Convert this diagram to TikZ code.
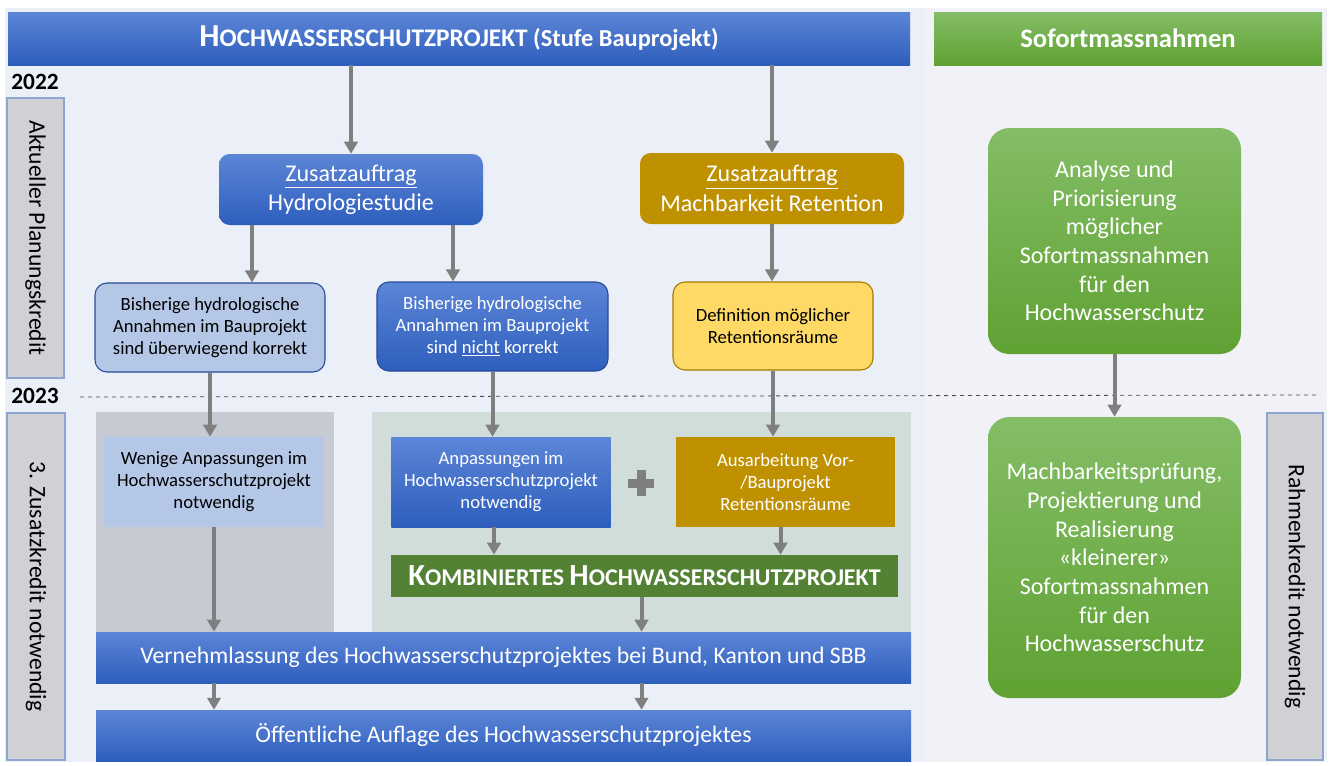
\documentclass[tikz,border=0pt]{standalone}
\usepackage{fontspec}
\setmainfont{Carlito}
\usetikzlibrary{positioning,arrows.meta,calc}
\definecolor{panelL}{HTML}{EAEFF8}
\definecolor{panelR}{HTML}{F0F2F7}
\definecolor{blueTop}{HTML}{5C85D6}
\definecolor{blueBot}{HTML}{2E5EBD}
\definecolor{greenTop}{HTML}{84BD66}
\definecolor{greenBot}{HTML}{5FA233}
\definecolor{gold}{HTML}{BF9000}
\definecolor{lightgold}{HTML}{FFD966}
\definecolor{lightblue}{HTML}{B4C7E7}
\definecolor{darkgreen}{HTML}{548235}
\definecolor{arrgray}{HTML}{7F7F7F}
\definecolor{sidegray}{HTML}{D0D1D5}
\definecolor{sideline}{HTML}{8EA6CF}
\definecolor{regiongray}{HTML}{C6CAD3}
\definecolor{regiongreen}{HTML}{D0DDDB}
\begin{document}
\begin{tikzpicture}[x=0.75pt, y=-0.75pt,
    bluebar/.style={rectangle, top color=blueTop, bottom color=blueBot, text=white, inner sep=0pt},
    greenbox/.style={rectangle, top color=greenTop, bottom color=greenBot, text=white, inner sep=0pt, align=center},
    taskbox/.style={rectangle, rounded corners=8pt, minimum width=198pt, minimum height=53.25pt, align=center, font=\fontsize{18}{22}\selectfont, text=white, inner sep=0pt},
    resbox/.style={rectangle, rounded corners=9pt, minimum height=66.75pt, align=center, font=\fontsize{14}{16.3}\selectfont, inner sep=0pt, line width=0.8pt},
    stepbox/.style={rectangle, minimum width=164.5pt, minimum height=67.5pt, align=center, font=\fontsize{14}{16.5}\selectfont, inner sep=0pt},
    sidebox/.style={rectangle, fill=sidegray, draw=sideline, line width=0.8pt, rotate=-90, font=\fontsize{17.7}{20}\selectfont, inner sep=0pt},
    yearlbl/.style={font=\bfseries\fontsize{17.5}{20}\selectfont, inner sep=0pt},
    arr/.style={-{Triangle[length=9pt, width=10pt]}, line width=3pt, draw=arrgray},
]
\useasboundingbox (0,0) rectangle (1330,765);
\fill[white] (0,0) rectangle (1330,765);
\fill[panelL] (5,8) rectangle (925,762);
\fill[panelR] (925,8) rectangle (1327,762);
\fill[regiongray] (96,412) rectangle (334,632);
\fill[regiongreen] (372,412) rectangle (911,632);
\draw[black!70, dashed, line width=0.6pt] (80,397) -- (1320,395);

\node[bluebar, minimum width=676.5pt, minimum height=39.75pt, font=\bfseries\fontsize{18.3}{26}\selectfont] (title) at (459,38.5)
  {{\fontsize{24}{26}\selectfont H}{\fontsize{19}{26}\selectfont OCHWASSERSCHUTZPROJEKT} (Stufe Bauprojekt)};
\node[greenbox, minimum width=291pt, minimum height=39.75pt, font=\bfseries\fontsize{20}{24}\selectfont] (sofort) at (1128,38.5) {Sofortmassnahmen};

\node[yearlbl] (y22) at (35,81.5) {2022};
\node[yearlbl] (y23) at (35,396) {2023};
\node[sidebox, minimum width=210pt, minimum height=42.75pt] (kredA) at (35.5,238) {Aktueller Planungskredit};
\node[sidebox, minimum width=260.25pt, minimum height=43.5pt] (kredB) at (36,586.5) {3. Zusatzkredit notwendig};
\node[sidebox, minimum width=260.25pt, minimum height=42pt] (kredC) at (1295,586.5) {Rahmenkredit notwendig};

\node[taskbox, top color=blueTop, bottom color=blueBot] (hydro) at (351,189.5) {\underline{Zusatzauftrag}\\Hydrologiestudie};
\node[taskbox, fill=gold] (machb) at (772,188.5) {\underline{Zusatzauftrag}\\Machbarkeit Retention};

\node[resbox, fill=lightblue, draw=blueBot!80!black, minimum width=172.5pt] (bishA) at (210,327.5) {Bisherige hydrologische\\Annahmen im Bauprojekt\\sind überwiegend korrekt};
\node[resbox, top color=blueTop, bottom color=blueBot, draw=blueBot!80!black, text=white, minimum width=173.25pt] (bishB) at (492.5,326.5) {Bisherige hydrologische\\Annahmen im Bauprojekt\\sind \underline{nicht} korrekt};
\node[resbox, fill=lightgold, draw=gold!85!black, minimum width=150pt, minimum height=66pt] (defin) at (773,326) {Definition möglicher\\Retentionsräume};

\node[stepbox, fill=lightblue] (wenig) at (214,482) {Wenige Anpassungen im\\Hochwasserschutzprojekt\\notwendig};
\node[stepbox, top color=blueTop, bottom color=blueBot, text=white] (anpas) at (501,482) {Anpassungen im\\Hochwasserschutzprojekt\\notwendig};
\node[stepbox, fill=gold, text=white] (ausarb) at (785.5,482) {Ausarbeitung Vor-\\/Bauprojekt\\Retentionsräume};
\coordinate (plus) at (641,483);
\fill[arrgray] ($(plus)+(-13,-4.5)$) rectangle ($(plus)+(13,4.5)$);
\fill[arrgray] ($(plus)+(-4.5,-13)$) rectangle ($(plus)+(4.5,13)$);
\node[rectangle, fill=darkgreen, text=white, minimum width=380.25pt, minimum height=31.5pt, inner sep=0pt, font=\bfseries\fontsize{18}{26}\selectfont] (komb) at (644.5,576)
  {{\fontsize{23}{26}\selectfont K}OMBINIERTES {\fontsize{23}{26}\selectfont H}OCHWASSERSCHUTZPROJEKT};

\node[bluebar, minimum width=611.25pt, minimum height=38.25pt, font=\fontsize{17.8}{20}\selectfont] (vern) at (503.5,657.5) {Vernehmlassung des Hochwasserschutzprojektes bei Bund, Kanton und SBB};
\node[bluebar, minimum width=611.25pt, minimum height=38.25pt, font=\fontsize{17.8}{20}\selectfont] (oeff) at (503.5,735.5) {Öffentliche Auflage des Hochwasserschutzprojektes};

\node[greenbox, rounded corners=16pt, minimum width=189.75pt, minimum height=169.5pt, font=\fontsize{18}{21.5}\selectfont] (analyse) at (1114.5,241) {Analyse und\\Priorisierung\\möglicher\\Sofortmassnahmen\\für den\\Hochwasserschutz};
\node[greenbox, rounded corners=16pt, minimum width=189.75pt, minimum height=210.75pt, font=\fontsize{18}{21.5}\selectfont] (realis) at (1114.5,557.5) {Machbarkeitsprüfung,\\Projektierung und\\Realisierung\\«kleinerer»\\Sofortmassnahmen\\für den\\Hochwasserschutz};

\coordinate (hydroL) at ($(hydro.south)+(-99,0)$);
\coordinate (hydroR) at ($(hydro.south)+(102,0)$);
\coordinate (anpasO) at ($(anpas.south)+(-7,0)$);
\coordinate (ausarbO) at ($(ausarb.south)+(-5,0)$);
\coordinate (kombO) at ($(komb.south)+(-3,0)$);

\draw[arr] (title.south -| hydro.north) -- (hydro.north);
\draw[arr] (title.south -| machb.north) -- (machb.north);
\draw[arr] (hydroL) -- (hydroL |- bishA.north);
\draw[arr] (hydroR) -- (hydroR |- bishB.north);
\draw[arr] (machb.south) -- (machb.south |- defin.north);
\draw[arr] (bishA.south) -- (bishA.south |- wenig.north);
\draw[arr] (bishB.south) -- (bishB.south |- anpas.north);
\draw[arr] (defin.south) -- (defin.south |- ausarb.north);
\draw[arr] (anpasO) -- (anpasO |- komb.north);
\draw[arr] (ausarbO) -- (ausarbO |- komb.north);
\draw[arr] (wenig.south) -- (wenig.south |- vern.north);
\draw[arr] (kombO) -- (kombO |- vern.north);
\draw[arr] (vern.south -| wenig.south) -- (oeff.north -| wenig.south);
\draw[arr] (vern.south -| kombO) -- (oeff.north -| kombO);
\draw[arr] (analyse.south) -- (realis.north);
\end{tikzpicture}
\end{document}
